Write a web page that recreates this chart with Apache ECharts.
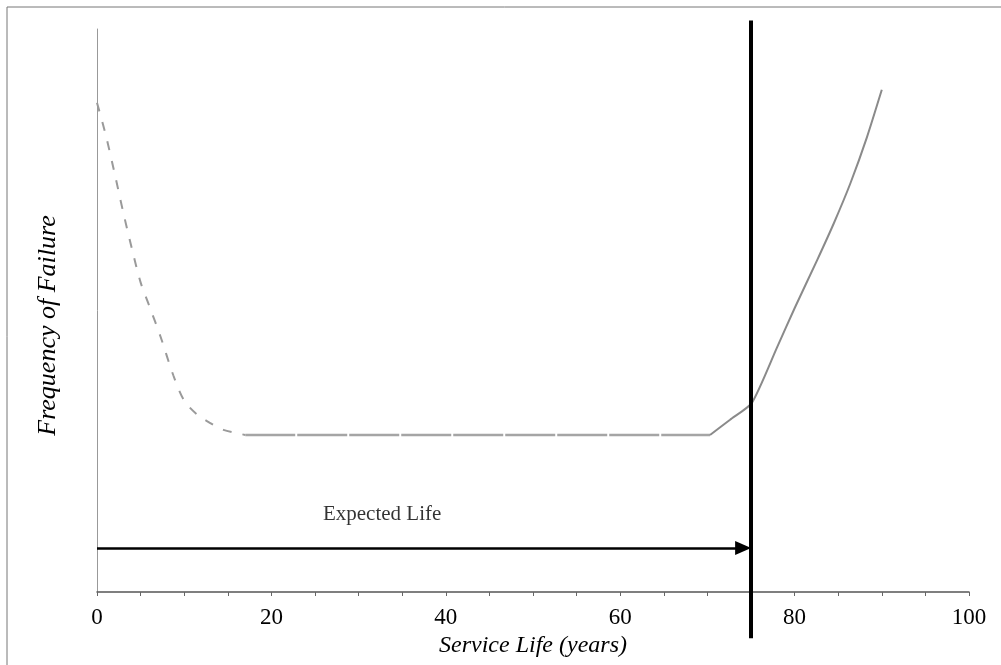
<!DOCTYPE html>
<html>
<head>
<meta charset="utf-8">
<script src="https://cdn.jsdelivr.net/npm/echarts@6/dist/echarts.min.js"></script>
<style>html,body{margin:0;padding:0;background:#fff;}#c{width:1001px;height:665px;}</style>
</head>
<body>
<div id="c"></div>
<script>
// Data (service life in years, frequency of failure in relative units)
const declineX = [0, 1, 2, 3, 4, 5, 6, 7.3, 8.75, 10, 11.5, 13, 14.5, 17];
const declineY = [86.9, 81.2, 74.5, 67.5, 61, 55, 50.8, 45.3, 38.5, 34, 31.5, 30, 28.8, 27.9];
const flatX = [17, 70.3];
const flatY = [27.9, 27.9];
const riseX = [70.3, 72.6, 75.1, 78, 80, 82.6, 84.5, 86.4, 88.3, 90];
const riseY = [27.9, 30.6, 33.6, 43.5, 50.4, 59, 65.5, 72.6, 80.8, 89.2];
const expectedLife = 75;
const expectedLineY = [-8.2, 101.5];
const arrowY = 7.8;
const labelPos = [32.7, 13.8];
const labelText = 'Expected Life';
const xTicks = [0, 20, 40, 60, 80, 100];

const zip = (xs, ys) => xs.map((x, i) => [x, ys[i]]);
const serif = 'Liberation Serif';

const chart = echarts.init(document.getElementById('c'));
chart.setOption({
  animation: false,
  backgroundColor: '#fff',
  grid: { left: 97, right: 32, top: 29, bottom: 73 },
  graphic: [{
    type: 'rect', shape: { x: 7, y: 7, width: 1010, height: 680 },
    style: { fill: 'none', stroke: '#777', lineWidth: 1 }, silent: true
  }],
  xAxis: {
    type: 'value', min: 0, max: 100, interval: 5,
    name: 'Service Life (years)', nameLocation: 'middle', nameGap: 42,
    nameTextStyle: { fontFamily: serif, fontStyle: 'italic', fontSize: 24, color: '#000' },
    axisLine: { show: true, lineStyle: { color: '#555', width: 1.5 } },
    axisTick: { show: true, length: 4, inside: false, lineStyle: { color: '#666' } },
    axisLabel: {
      margin: 14, fontFamily: serif, fontSize: 23, color: '#000',
      formatter: v => xTicks.indexOf(v) >= 0 ? String(v) : ''
    },
    splitLine: { show: false }
  },
  yAxis: {
    type: 'value', min: 0, max: 100,
    name: 'Frequency of Failure', nameLocation: 'middle', nameGap: 36,
    nameTextStyle: { fontFamily: serif, fontStyle: 'italic', fontSize: 26, color: '#000',
      padding: [0, 30, 0, 0] },
    axisLine: { show: true, lineStyle: { color: '#999', width: 1 } },
    axisTick: { show: false },
    axisLabel: { show: false },
    splitLine: { show: false }
  },
  series: [
    {
      type: 'line', data: zip(declineX, declineY), symbol: 'none', smooth: 0.3,
      lineStyle: { color: '#9a9a9a', width: 2, type: [9, 11] }
    },
    {
      type: 'line', data: zip(flatX, flatY), symbol: 'none',
      lineStyle: { color: '#a5a5a5', width: 2.5, type: [50, 2] }
    },
    {
      type: 'line', data: zip(riseX, riseY), symbol: 'none', smooth: 0.2,
      lineStyle: { color: '#8a8a8a', width: 2 }
    },
    {
      type: 'line', clip: false, symbol: 'none',
      data: [[expectedLife, expectedLineY[0]], [expectedLife, expectedLineY[1]]],
      lineStyle: { color: '#000', width: 4 }, z: 5
    },
    {
      type: 'scatter', symbolSize: 0, data: [labelPos],
      label: { show: true, position: 'inside', formatter: labelText,
        fontFamily: serif, fontSize: 21, color: '#000' },
      markLine: {
        silent: true, symbol: ['none', 'triangle'], symbolSize: [14, 16],
        label: { show: false },
        lineStyle: { color: '#000', width: 2.5, type: 'solid' },
        data: [[{ coord: [0, arrowY] }, { coord: [expectedLife - 0.9, arrowY] }]]
      }
    }
  ]
});
</script>
</body>
</html>
